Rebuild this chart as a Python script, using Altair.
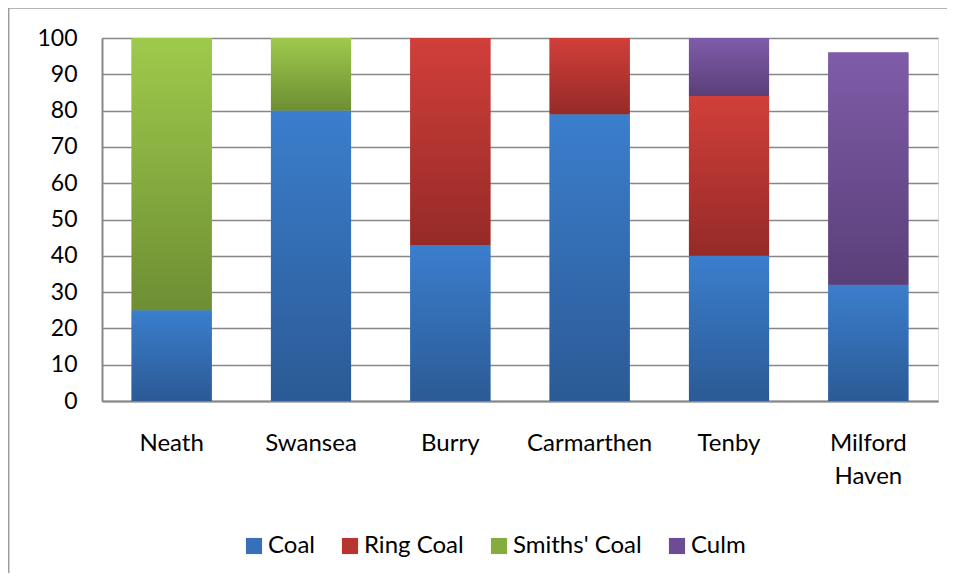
import altair as alt
import pandas as pd

categories = ["Neath", "Swansea", "Burry", "Carmarthen", "Tenby", "Milford Haven"]
series = ["Coal", "Ring Coal", "Smiths' Coal", "Culm"]
coal = [25, 80, 43, 79, 40, 32]
ring_coal = [0, 0, 57, 21, 44, 0]
smiths_coal = [75, 20, 0, 0, 0, 0]
culm = [0, 0, 0, 0, 16, 64]

solid_colors = ["#3570B8", "#B8342F", "#86AC3F", "#6C4C93"]
grad_stops = {
    "Coal": ("#3B7ECD", "#2B5A95"),
    "Ring Coal": ("#D13F3A", "#952A27"),
    "Smiths' Coal": ("#9ECA4C", "#6E8E33"),
    "Culm": ("#7F5CA9", "#5A3F78"),
}

rows = []
for i, c in enumerate(categories):
    base = 0
    for s, vals in zip(series, [coal, ring_coal, smiths_coal, culm]):
        v = vals[i]
        if v > 0:
            rows.append({"category": c, "series": s, "start": base, "end": base + v,
                         "order": series.index(s)})
            base += v
df = pd.DataFrame(rows)

FONT = "Lato"

x = alt.X("category:N", sort=categories, title=None,
          scale=alt.Scale(paddingInner=0.425, paddingOuter=0.2125),
          axis=alt.Axis(labelAngle=0, labelFontSize=24, labelFont=FONT, labelColor="#000000",
                        labelPadding=30, tickSize=0, domainColor="#878787", domainWidth=2,
                        labelExpr="split(datum.label, ' ')", labelLineHeight=33,
                        labelBaseline="top"))
y = alt.Y("end:Q", title=None,
          scale=alt.Scale(domain=[0, 100], nice=False),
          axis=alt.Axis(values=list(range(0, 101, 10)), labelFontSize=23, labelFont=FONT,
                        labelColor="#000000", labelPadding=25, tickSize=0,
                        domainColor="#878787", domainWidth=2,
                        gridColor="#878787", gridWidth=1.6))

legend_layer = alt.Chart(df).mark_bar().encode(
    x=x, y=y, y2="start:Q",
    color=alt.Color("series:N", sort=series,
                    scale=alt.Scale(domain=series, range=solid_colors),
                    legend=alt.Legend(title=None, orient="none", direction="horizontal",
                                      legendX=140, legendY=496, labelFont=FONT,
                                      labelFontSize=24, labelColor="#000000",
                                      symbolType="square", symbolSize=260,
                                      symbolStrokeWidth=0, columnPadding=23,
                                      labelOffset=2)),
)

layers = [legend_layer]
for s in series:
    top, bot = grad_stops[s]
    grad = alt.Gradient(gradient="linear", x1=0, y1=0, x2=0, y2=1,
                        stops=[alt.GradientStop(color=top, offset=0),
                               alt.GradientStop(color=bot, offset=1)])
    layers.append(
        alt.Chart(df).transform_filter(alt.datum.series == s)
        .mark_bar(fill=grad).encode(x=x, y=y, y2="start:Q")
    )

border = alt.Chart(pd.DataFrame({"a": [0]})).mark_rule(color="#9A9A9A", strokeWidth=1.5)
left_border = border.encode(x=alt.value(-93.3), y=alt.value(-30), y2=alt.value(560))
top_border = border.encode(x=alt.value(-94), x2=alt.value(850), y=alt.value(-30))

chart = alt.layer(*layers, left_border, top_border).properties(
    width=836, height=363,
    autosize=alt.AutoSizeParams(type="none"),
    padding={"left": 94, "top": 30, "right": 9, "bottom": 172},
).configure_view(stroke=None).configure(background="white")

chart.save("out.html", embed_options={"renderer": "svg", "actions": False})
